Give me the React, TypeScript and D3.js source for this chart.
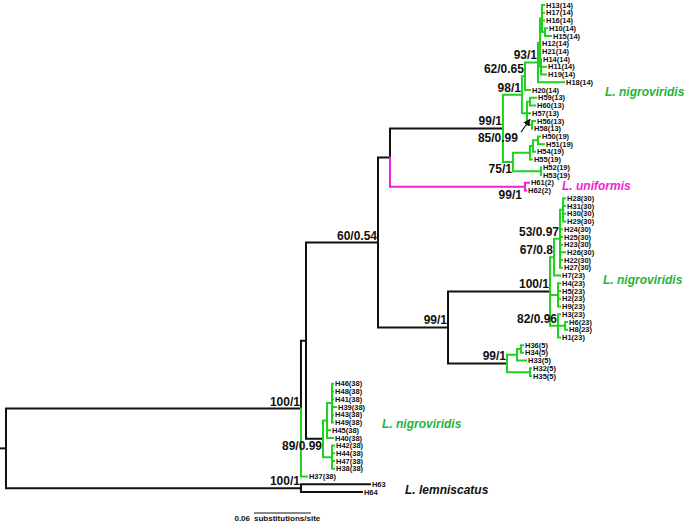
import React from 'react';
import * as d3 from 'd3';

// [node id, parent id, branch length (substitutions/site)]; leaves are named by their label
const TREE: [string, string, number][] = [
  ['root', '', 0],
  ['R', 'root', 0.0063],
  ['A', 'R', 0.3105],
  ['B', 'A', 0.0053],
  ['C', 'B', 0.0758],
  ['E', 'C', 0.0126],
  ['G', 'E', 0.1189],
  ['N98', 'G', 0.0200],
  ['N62', 'N98', 0.0032],
  ['N93', 'N62', 0.0137],
  ['x1', 'N93', 0.0021],
  ['a', 'x1', 0.0021],
  ['H13(14)', 'a', 0.0021],
  ['H17(14)', 'a', 0.0021],
  ['H16(14)', 'a', 0.0021],
  ['b', 'a', 0.0032],
  ['H10(14)', 'b', 0.0021],
  ['H15(14)', 'b', 0.0063],
  ['H12(14)', 'x1', 0],
  ['H21(14)', 'x1', 0],
  ['c', 'x1', 0.0011],
  ['H14(14)', 'c', 0],
  ['H11(14)', 'c', 0.0053],
  ['H19(14)', 'c', 0.0053],
  ['H18(14)', 'N93', 0.0274],
  ['H20(14)', 'N62', 0.0053],
  ['N85', 'N98', 0.0053],
  ['e', 'N85', 0.0032],
  ['H59(13)', 'e', 0.0063],
  ['H60(13)', 'e', 0.0053],
  ['H57(13)', 'N85', 0.0032],
  ['f', 'N85', 0.0053],
  ['H56(13)', 'f', 0.0032],
  ['H58(13)', 'f', 0],
  ['N75', 'G', 0.0105],
  ['N50', 'N75', 0.0179],
  ['h', 'N50', 0.0032],
  ['i', 'h', 0.0053],
  ['H50(19)', 'i', 0.0021],
  ['H51(19)', 'i', 0.0063],
  ['H54(19)', 'h', 0.0021],
  ['H55(19)', 'N50', 0.0021],
  ['g', 'N75', 0.0295],
  ['H52(19)', 'g', 0],
  ['H53(19)', 'g', 0],
  ['U', 'E', 0.1421],
  ['H61(2)', 'U', 0.0042],
  ['H62(2)', 'U', 0.0011],
  ['F', 'C', 0.0737],
  ['N100', 'F', 0.1074],
  ['N67', 'N100', 0.0042],
  ['N53', 'N67', 0.0063],
  ['s1', 'N53', 0.0032],
  ['H28(30)', 's1', 0.0021],
  ['H31(30)', 's1', 0.0021],
  ['H30(30)', 's1', 0.0021],
  ['H29(30)', 's1', 0.0021],
  ['H24(30)', 'N53', 0.0021],
  ['H25(30)', 'N53', 0.0021],
  ['H23(30)', 'N53', 0.0021],
  ['H26(30)', 'N53', 0.0053],
  ['H22(30)', 'N53', 0.0021],
  ['H27(30)', 'N53', 0.0021],
  ['H7(23)', 'N67', 0.0063],
  ['p', 'N100', 0.0084],
  ['H4(23)', 'p', 0.0021],
  ['H5(23)', 'p', 0.0021],
  ['H2(23)', 'p', 0.0021],
  ['H9(23)', 'p', 0.0021],
  ['N82', 'N100', 0.0084],
  ['H3(23)', 'N82', 0.0021],
  ['m', 'N82', 0.0074],
  ['H6(23)', 'm', 0.0021],
  ['H8(23)', 'm', 0.0021],
  ['H1(23)', 'N82', 0.0021],
  ['N99b', 'F', 0.0621],
  ['j', 'N99b', 0.0105],
  ['k', 'j', 0.0042],
  ['H36(5)', 'k', 0.0021],
  ['H34(5)', 'k', 0.0021],
  ['H33(5)', 'j', 0.0095],
  ['l', 'N99b', 0.0242],
  ['H32(5)', 'l', 0.0011],
  ['H35(5)', 'l', 0.0011],
  ['D', 'B', 0.0179],
  ['D1', 'D', 0.0042],
  ['D1a', 'D1', 0.0053],
  ['H46(38)', 'D1a', 0.0011],
  ['H48(38)', 'D1a', 0.0011],
  ['H41(38)', 'D1a', 0.0011],
  ['H39(38)', 'D1a', 0.0042],
  ['H43(38)', 'D1a', 0.0011],
  ['H49(38)', 'D1a', 0.0011],
  ['H45(38)', 'D1', 0.0032],
  ['H40(38)', 'D1', 0.0063],
  ['D2', 'D', 0.0095],
  ['H42(38)', 'D2', 0.0021],
  ['H44(38)', 'D2', 0.0021],
  ['H47(38)', 'D2', 0.0021],
  ['H38(38)', 'D2', 0.0021],
  ['H37(38)', 'A', 0.0063],
  ['OG', 'R', 0.3105],
  ['H63', 'OG', 0.0726],
  ['H64', 'OG', 0.0642],
];

// support values: bootstrap / posterior probability
const SUPPORT: [string, string][] = [
  ['A', '100/1'], ['OG', '100/1'], ['D', '89/0.99'], ['C', '60/0.54'], ['F', '99/1'],
  ['G', '99/1'], ['U', '99/1'], ['N98', '98/1'], ['N62', '62/0.65'], ['N93', '93/1'],
  ['N85', '85/0.99'], ['N75', '75/1'], ['N100', '100/1'], ['N67', '67/0.8'],
  ['N53', '53/0.97'], ['N82', '82/0.96'], ['N99b', '99/1'],
];

const SPECIES: string[] = ['L. nigroviridis', 'L. uniformis', 'L. nigroviridis', 'L. nigroviridis', 'L. lemniscatus'];
const SCALE_BAR = 0.06;
const SCALE_UNIT = 'substitutions/site';

// clade stems whose descendants are coloured
const GREEN_CLADES = ['G', 'N100', 'N99b', 'D'];
const GREEN_TIPS = ['H37(38)'];
const MAGENTA_CLADES = ['U'];

const GREEN = '#1ed21e';
const GREEN_TEXT = '#1fb43a';
const MAGENTA = '#f51ed2';

// layout of support labels: [dx, dy] relative to node (text anchored at its end)
const LABEL_OFFSETS: Record<string, [number, number]> = {
  D: [-1, 11], U: [-3, 12], N75: [-1, 11], N85: [-9, 29],
};
const SPECIES_POS: [number, number, string][] = [
  [605, 96, GREEN_TEXT], [562, 190, MAGENTA], [603, 284, GREEN_TEXT], [382, 428, GREEN_TEXT], [405, 494, '#111'],
];

interface N { id: string; parent: string; len: number; children: N[]; depth: number; y: number; color: string; leaf: boolean; }

function buildTree() {
  const map = new Map<string, N>();
  TREE.forEach(([id, parent, len]) => map.set(id, { id, parent, len, children: [], depth: 0, y: 0, color: '#111', leaf: false }));
  TREE.forEach(([id, parent]) => { if (parent) map.get(parent)!.children.push(map.get(id)!); });
  const root = map.get('root')!;
  let leafIdx = 0;
  const walk = (n: N, d: number, color: string) => {
    n.depth = d + n.len;
    n.color = color;
    let childColor = color;
    if (GREEN_CLADES.includes(n.id)) childColor = GREEN;
    if (MAGENTA_CLADES.includes(n.id)) { n.color = MAGENTA; childColor = MAGENTA; }
    if (GREEN_TIPS.includes(n.id)) n.color = GREEN;
    if (n.children.length === 0) { n.leaf = true; n.y = leafIdx++; return; }
    n.children.forEach(c => walk(c, n.depth, childColor));
    n.y = (n.children[0].y + n.children[n.children.length - 1].y) / 2;
  };
  walk(root, 0, '#111');
  return { map, root, nLeaves: leafIdx };
}

export default function App() {
  const { map, nLeaves } = buildTree();
  const x = d3.scaleLinear().domain([0, 0.72]).range([0, 684]);
  const y = d3.scaleLinear().domain([0, nLeaves - 1]).range([5, 492]);
  const nodes = Array.from(map.values());
  const font = '"Liberation Sans", Arial, sans-serif';

  const branches = nodes.filter(n => n.parent).map(n => {
    const p = map.get(n.parent)!;
    const path = d3.path();
    path.moveTo(x(p.depth), y(p.y));
    path.lineTo(x(p.depth), y(n.y));
    path.lineTo(x(n.depth), y(n.y));
    return <path key={n.id} d={path.toString()} fill="none" stroke={n.color} strokeWidth={2} strokeLinecap="square" />;
  });

  const leaves = nodes.filter(n => n.leaf).map(n => (
    <text key={n.id} x={x(n.depth) + 2} y={y(n.y)} dy="0.35em" fontSize={7.5} fontWeight="bold" fontFamily={font} fill="#111">{n.id}</text>
  ));

  const supports = SUPPORT.map(([id, label]) => {
    const n = map.get(id)!;
    const [dx, dy] = LABEL_OFFSETS[id] || [-1, -3];
    return <text key={id} x={x(n.depth) + dx} y={y(n.y) + dy} textAnchor="end" fontSize={12} fontWeight="bold" fontFamily={font} fill="#111">{label}</text>;
  });

  const n85 = map.get('N85')!;
  const ax = x(n85.depth), ay = y(n85.y);

  return (
    <svg width={685} height={523} style={{ position: 'absolute', left: 0, top: 0, background: '#fff' }}>
      <defs>
        <marker id="arr" viewBox="0 0 10 10" refX="9" refY="5" markerWidth="6" markerHeight="6" orient="auto">
          <path d="M0,0 L10,5 L0,10 z" fill="#111" />
        </marker>
      </defs>
      {branches}
      {leaves}
      {supports}
      <line x1={ax - 6} y1={ay + 19} x2={ax + 3} y2={ay + 6} stroke="#111" strokeWidth={1.2} markerEnd="url(#arr)" />
      {SPECIES.map((s, i) => (
        <text key={i} x={SPECIES_POS[i][0]} y={SPECIES_POS[i][1]} fontSize={12} fontWeight="bold" fontStyle="italic" fontFamily={font} fill={SPECIES_POS[i][2]}>{s}</text>
      ))}
      <line x1={x(0.2674)} x2={x(0.2674 + SCALE_BAR)} y1={513} y2={513} stroke="#111" strokeWidth={1} />
      <text x={x(0.2674) - 4} y={521} textAnchor="end" fontSize={8} fontWeight="bold" fontFamily={font} fill="#111">{SCALE_BAR.toFixed(2)}</text>
      <text x={x(0.2674)} y={521} fontSize={8} fontWeight="bold" fontFamily={font} fill="#111">{SCALE_UNIT}</text>
    </svg>
  );
}
